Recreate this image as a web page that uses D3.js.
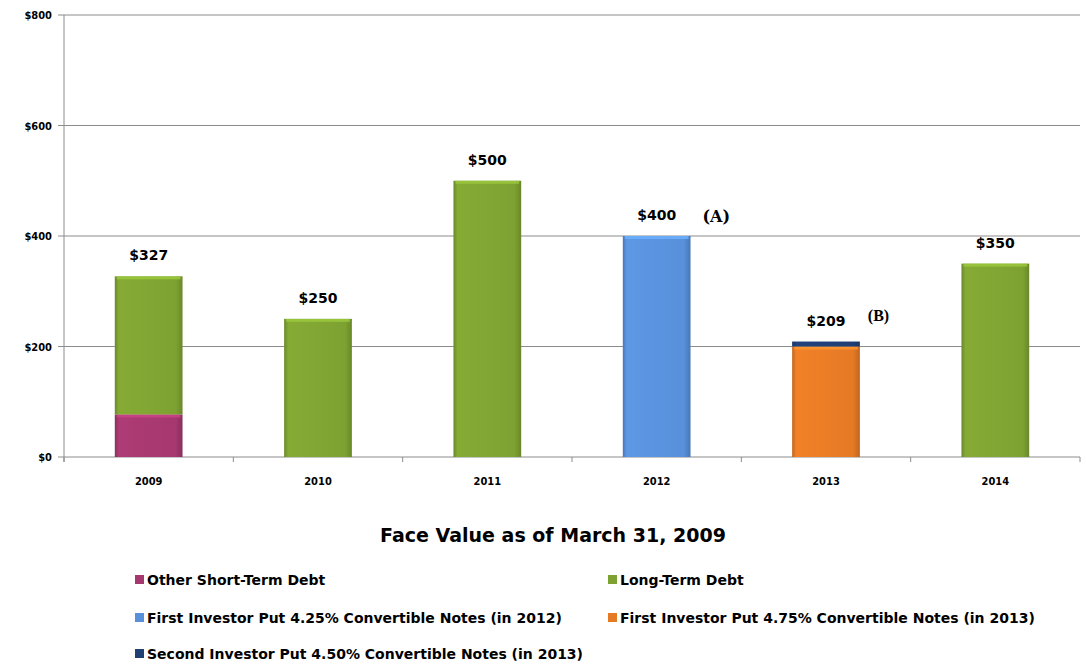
<!DOCTYPE html>
<html><head><meta charset="utf-8">
<script src="https://cdn.jsdelivr.net/npm/d3@7"></script>
<style>body{margin:0;background:#fff;}svg{display:block;}</style>
</head><body>
<svg id="c" width="1086" height="666"></svg>
<script>
const years = ["2009","2010","2011","2012","2013","2014"];
const seriesNames = ["Other Short-Term Debt","Long-Term Debt","First Investor Put 4.25% Convertible Notes (in 2012)","First Investor Put 4.75% Convertible Notes (in 2013)","Second Investor Put 4.50% Convertible Notes (in 2013)"];
const otherShortTerm = [77,0,0,0,0,0];
const longTerm = [250,250,500,0,0,350];
const firstPut2012 = [0,0,0,400,0,0];
const firstPut2013 = [0,0,0,0,200,0];
const secondPut2013 = [0,0,0,0,9,0];
const totalLabels = ["$327","$250","$500","$400","$209","$350"];
const yTicks = [0,200,400,600,800];
const colors = ["#A5386F","#7EA232","#5890DA","#E57A25","#1F3F75"];

const svg = d3.select("#c");
const pL=64,pR=1080,pT=15,pB=457;
const x = d3.scaleBand().domain(years).range([pL,pR]).paddingInner(0.6).paddingOuter(0.3);
const y = d3.scaleLinear().domain([0,800]).range([pB,pT]);
const font = "'DejaVu Sans',sans-serif";
const fontC = "'DejaVu Sans Condensed','DejaVu Sans',sans-serif";

// gradients
const defs = svg.append("defs");
colors.forEach((c,i)=>{
  const g = defs.append("linearGradient").attr("id","g"+i).attr("x1","0").attr("x2","1").attr("y1","0").attr("y2","0");
  const dk = d3.color(c).darker(0.5), lt = d3.color(c).brighter(0.15);
  g.append("stop").attr("offset","0%").attr("stop-color",dk);
  g.append("stop").attr("offset","6%").attr("stop-color",lt);
  g.append("stop").attr("offset","90%").attr("stop-color",c);
  g.append("stop").attr("offset","100%").attr("stop-color",dk);
});

// gridlines
svg.append("g").selectAll("line").data(yTicks).join("line")
  .attr("x1",pL-6).attr("x2",pR).attr("y1",d=>y(d)).attr("y2",d=>y(d))
  .attr("stroke","#8c8c8c").attr("stroke-width",1);
// y axis
svg.append("line").attr("x1",pL).attr("x2",pL).attr("y1",pT).attr("y2",pB+5).attr("stroke","#8c8c8c");
svg.append("g").selectAll("text").data(yTicks).join("text")
  .attr("x",52).attr("y",d=>y(d)+4).attr("text-anchor","end")
  .attr("font-family",fontC).attr("font-weight","bold").attr("font-size",11).text(d=>"$"+d);
// x ticks
svg.append("g").selectAll("line").data(d3.range(years.length+1)).join("line")
  .attr("x1",d=>pL+d*(pR-pL)/years.length).attr("x2",d=>pL+d*(pR-pL)/years.length)
  .attr("y1",pB).attr("y2",pB+5).attr("stroke","#8c8c8c");
svg.append("g").selectAll("text").data(years).join("text")
  .attr("x",d=>x(d)+x.bandwidth()/2).attr("y",485).attr("text-anchor","middle")
  .attr("font-family",fontC).attr("font-weight","bold").attr("font-size",11).text(d=>d);

// stacked bars
const rows = years.map((yr,i)=>({year:yr, s0:otherShortTerm[i], s1:longTerm[i], s2:firstPut2012[i], s3:firstPut2013[i], s4:secondPut2013[i]}));
const stack = d3.stack().keys(["s0","s1","s2","s3","s4"])(rows);
stack.forEach((layer,si)=>{
  svg.append("g").selectAll("rect").data(layer.filter(d=>d[1]-d[0]>0)).join("rect")
    .attr("x",d=>x(d.data.year)).attr("width",x.bandwidth())
    .attr("y",d=>y(d[1])).attr("height",d=>y(d[0])-y(d[1]))
    .attr("fill","url(#g"+si+")");
  svg.append("g").selectAll("rect").data(layer.filter(d=>d[1]-d[0]>20)).join("rect")
    .attr("x",d=>x(d.data.year)+2).attr("width",x.bandwidth()-4)
    .attr("y",d=>y(d[1])).attr("height",3)
    .attr("fill",d3.color(colors[si]).brighter(0.6)).attr("opacity",0.8);
});
// total labels
const totals = rows.map(r=>r.s0+r.s1+r.s2+r.s3+r.s4);
svg.append("g").selectAll("text").data(years).join("text")
  .attr("x",d=>x(d)+x.bandwidth()/2).attr("y",(d,i)=>y(totals[i])-16).attr("text-anchor","middle")
  .attr("font-family",font).attr("font-weight","bold").attr("font-size",14).text((d,i)=>totalLabels[i]);

// annotations
svg.append("text").attr("x",x("2012")+x.bandwidth()+12).attr("y",y(400)-14)
  .attr("font-family","'DejaVu Serif','Liberation Serif',serif").attr("font-weight","bold").attr("font-size",16).text("(A)");
svg.append("text").attr("x",x("2013")+x.bandwidth()+8).attr("y",y(209)-21)
  .attr("font-family","'Liberation Serif',serif").attr("font-weight","bold").attr("font-size",16).text("(B)");

// title
svg.append("text").attr("x",553).attr("y",542).attr("text-anchor","middle")
  .attr("font-family",font).attr("font-weight","bold").attr("font-size",19).text("Face Value as of March 31, 2009");

// legend
const legPos = [[135,585],[608,585],[135,623],[608,623],[135,659]];
const lg = svg.append("g").selectAll("g").data(seriesNames).join("g")
  .attr("transform",(d,i)=>`translate(${legPos[i][0]},${legPos[i][1]})`);
lg.append("rect").attr("x",0).attr("y",-10).attr("width",9).attr("height",9).attr("fill",(d,i)=>colors[i]);
lg.append("text").attr("x",12).attr("y",0).attr("font-family",font).attr("font-weight","bold").attr("font-size",14).text(d=>d);
</script>
</body></html>
